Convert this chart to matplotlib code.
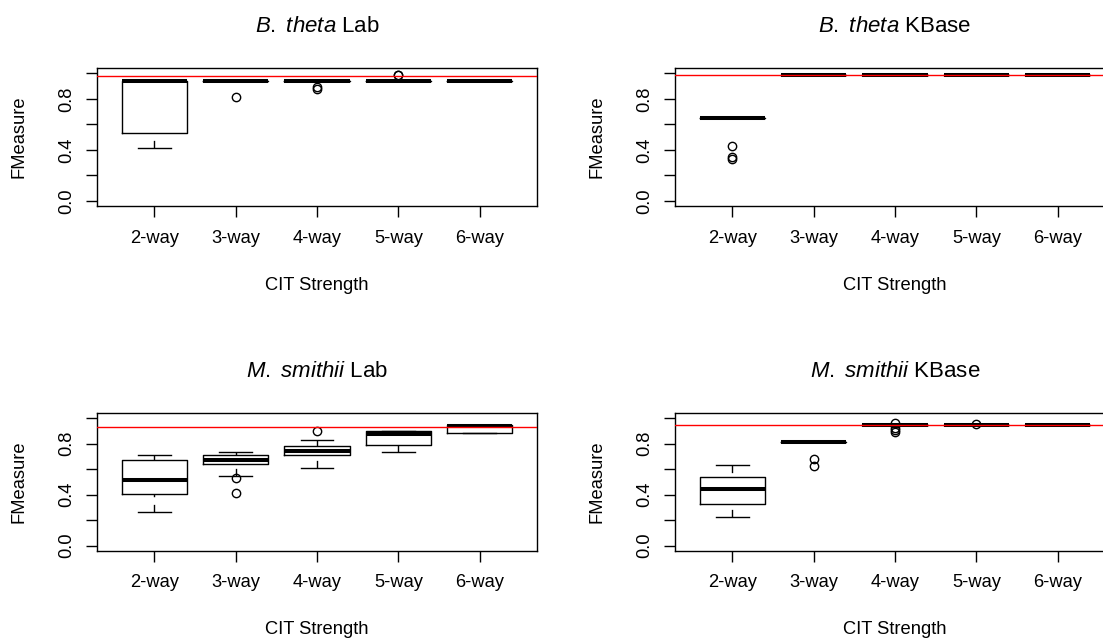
import matplotlib
matplotlib.use('Agg')
import matplotlib.pyplot as plt

plt.rcParams['font.family'] = ['Liberation Sans', 'DejaVu Sans']
plt.rcParams['mathtext.fontset'] = 'custom'
plt.rcParams['mathtext.rm'] = 'Liberation Sans'
plt.rcParams['mathtext.it'] = 'Liberation Sans:italic'

# data
groups = ['2-way', '3-way', '4-way', '5-way', '6-way']

# B. theta Lab
btl_whislo = [0.413, 0.937, 0.937, 0.937, 0.937]
btl_q1 = [0.531, 0.937, 0.937, 0.937, 0.937]
btl_med = [0.937, 0.937, 0.937, 0.937, 0.937]
btl_q3 = [0.937, 0.937, 0.937, 0.937, 0.937]
btl_whishi = [0.937, 0.937, 0.937, 0.937, 0.937]
btl_fliers = [[], [0.818], [0.897, 0.876], [0.99, 0.985], []]
btl_ref = 0.979

# B. theta KBase
btk_whislo = [0.647, 0.988, 0.988, 0.988, 0.988]
btk_q1 = [0.647, 0.988, 0.988, 0.988, 0.988]
btk_med = [0.647, 0.988, 0.988, 0.988, 0.988]
btk_q3 = [0.647, 0.988, 0.988, 0.988, 0.988]
btk_whishi = [0.647, 0.988, 0.988, 0.988, 0.988]
btk_fliers = [[0.429, 0.342, 0.329], [], [], [], []]
btk_ref = 0.989

# M. smithii Lab
msl_whislo = [0.265, 0.545, 0.61, 0.738, 0.885]
msl_q1 = [0.406, 0.641, 0.712, 0.788, 0.885]
msl_med = [0.516, 0.673, 0.743, 0.875, 0.935]
msl_q3 = [0.673, 0.712, 0.783, 0.895, 0.945]
msl_whishi = [0.714, 0.738, 0.827, 0.895, 0.945]
msl_fliers = [[], [0.529, 0.414], [0.895], [], []]
msl_ref = 0.932

# M. smithii KBase
msk_whislo = [0.223, 0.816, 0.945, 0.945, 0.945]
msk_q1 = [0.327, 0.816, 0.945, 0.945, 0.945]
msk_med = [0.447, 0.816, 0.945, 0.945, 0.945]
msk_q3 = [0.537, 0.816, 0.945, 0.945, 0.945]
msk_whishi = [0.633, 0.816, 0.945, 0.945, 0.945]
msk_fliers = [[], [0.683, 0.626], [0.96, 0.925, 0.908, 0.893], [0.955], []]
msk_ref = 0.945

panels = [
    (r'$\mathit{B.}$ $\mathit{theta}$ Lab', btl_whislo, btl_q1, btl_med, btl_q3, btl_whishi, btl_fliers, btl_ref),
    (r'$\mathit{B.}$ $\mathit{theta}$ KBase', btk_whislo, btk_q1, btk_med, btk_q3, btk_whishi, btk_fliers, btk_ref),
    (r'$\mathit{M.}$ $\mathit{smithii}$ Lab', msl_whislo, msl_q1, msl_med, msl_q3, msl_whishi, msl_fliers, msl_ref),
    (r'$\mathit{M.}$ $\mathit{smithii}$ KBase', msk_whislo, msk_q1, msk_med, msk_q3, msk_whishi, msk_fliers, msk_ref),
]

# axes rectangles (figure fractions)
W, H = 1103, 641
rects = [
    [97.3 / W, 1 - 206 / H, 439.4 / W, 137.7 / H],
    [675.3 / W, 1 - 206 / H, 439.4 / W, 137.7 / H],
    [97.3 / W, 1 - 550.7 / H, 439.4 / W, 137.7 / H],
    [675.3 / W, 1 - 550.7 / H, 439.4 / W, 137.7 / H],
]

fig = plt.figure(figsize=(W / 100, H / 100), dpi=100)

for rect, (title, wlo, q1, med, q3, whi, fl, ref) in zip(rects, panels):
    ax = fig.add_axes(rect)
    stats = []
    for i in range(len(groups)):
        stats.append(dict(whislo=wlo[i], q1=q1[i], med=med[i], q3=q3[i],
                          whishi=whi[i], fliers=fl[i]))
    art = ax.bxp(stats, positions=range(1, 6), widths=0.8, capwidths=0.4,
                 boxprops=dict(color='black', linewidth=1.0),
                 whiskerprops=dict(color='black', linewidth=1.0, linestyle=(0, (5.5, 5.5))),
                 capprops=dict(color='black', linewidth=1.0),
                 medianprops=dict(color='black', linewidth=2.9, solid_capstyle='butt'),
                 flierprops=dict(marker='o', markerfacecolor='none', markeredgecolor='black',
                                 markersize=6, markeredgewidth=1.0, linestyle='none'),
                 manage_ticks=False)
    # R draws whiskers from the far end toward the box
    for w in art['whiskers']:
        x, y = w.get_data()
        w.set_data(list(x)[::-1], list(y)[::-1])

    ax.axhline(ref, color='#ff0000', linewidth=1.0, zorder=5)

    ax.set_xlim(0.3, 5.7)
    ax.set_ylim(-0.04, 1.04)
    ax.set_xticks(range(1, 6))
    ax.set_xticklabels(groups)
    ax.set_yticks([0.0, 0.2, 0.4, 0.6, 0.8, 1.0])
    ax.set_yticklabels(['0.0', '', '0.4', '', '0.8', ''], rotation=90, va='center')
    ax.tick_params(axis='both', length=8, width=1.0, labelsize=13.2, color='black')
    ax.tick_params(axis='x', pad=9)
    ax.tick_params(axis='y', pad=8)
    for s in ax.spines.values():
        s.set_linewidth(1.0)

    ax.set_title(title, fontsize=16, pad=26)
    ax.set_xlabel('CIT Strength', fontsize=13.2)
    ax.xaxis.set_label_coords(0.5, -79 / 137.7)
    ax.xaxis.label.set_va('center')
    ax.set_ylabel('FMeasure', fontsize=13.2)
    ax.yaxis.set_label_coords(-78 / 439.4, 0.5)
    ax.yaxis.label.set_va('center')

fig.savefig('out.png', dpi=100)
